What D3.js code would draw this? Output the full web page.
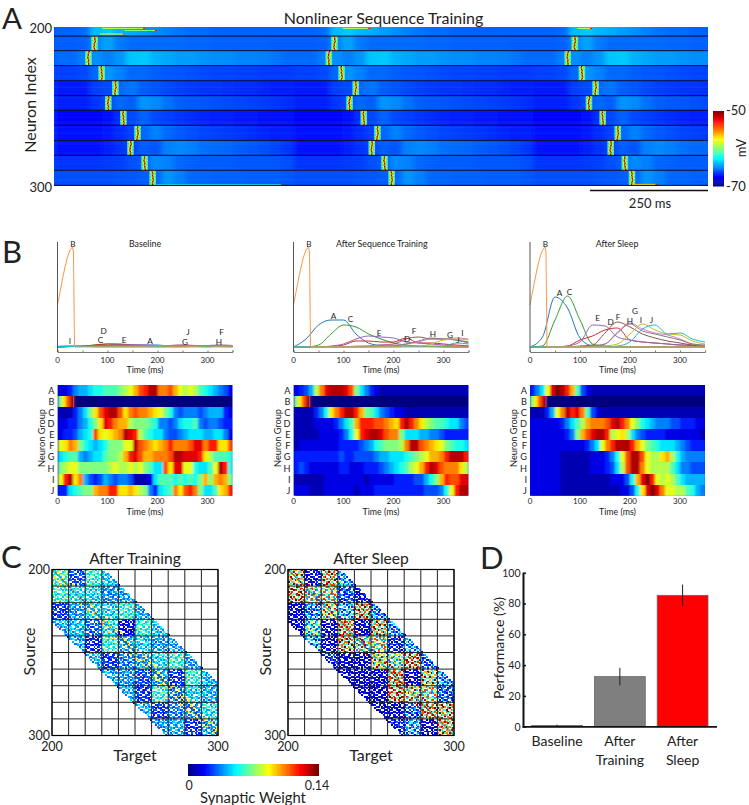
<!DOCTYPE html>
<html>
<head>
<meta charset="utf-8">
<title>Nonlinear Sequence Training</title>
<script src="https://cdn.jsdelivr.net/npm/d3@7"></script>
<style>
  html, body { margin: 0; padding: 0; background: #fff; }
  svg { display: block; }
  text { font-family: Lato, "Noto Sans", sans-serif; fill: #222; }
</style>
</head>
<body>
<svg id="chart" width="749" height="805"></svg>
<script>
// ---- panel A: membrane potential by group, one cycle of 20 columns (mV)
var traceTop = [-65.6,-65.6,-65.4,-63.8,-63.5,-63.9,-64.1,-64.4,-64.7,-65,-65.2,-65.4,-65.4,-65.6,-65.6,-65.6,-65.6,-65.6,-65.6,-65.6];
var trace1 = [-65.7,-65.7,-65.6,-64.9,-64.3,-65.1,-65.4,-65.4,-65.4,-65.4,-65.4,-65.5,-65.5,-65.6,-65.6,-65.6,-65.6,-65.6,-65.7,-65.7];
var trace2 = [-65.4,-65.4,-65,-64.7,-65,-64.6,-63.6,-63.5,-64,-64.2,-64.4,-64.4,-64.6,-64.7,-64.7,-64.9,-64.9,-65,-65.2,-65.4];
var trace3 = [-66.3,-66.3,-66.1,-65.5,-64.6,-65,-65.5,-65.5,-65.7,-65.8,-65.9,-66,-66.1,-66.2,-66.2,-66.3,-66.3,-66.4,-66.4,-66.4];
var trace4 = [-67.1,-67.1,-67.1,-66.3,-66.1,-65.5,-65.2,-65.7,-65.9,-66.1,-66.3,-66.4,-66.5,-66.5,-66.6,-66.7,-66.7,-66.8,-66.9,-66.9];
var trace5 = [-67,-67,-67,-66.5,-66.1,-65.5,-65.7,-64.6,-64.8,-65.3,-65.7,-65.8,-65.9,-66,-66.1,-66.2,-66.3,-66.4,-66.5,-66.7];
var trace6 = [-67.5,-67.5,-67.5,-67.5,-67.3,-66.7,-66.1,-65.6,-66.1,-66.3,-66.5,-66.7,-66.8,-66.9,-67,-67.1,-67.1,-67.2,-67.3,-67.3];
var trace7 = [-67.3,-67.3,-67.3,-67.3,-67.1,-66.7,-66.3,-65.5,-65,-65.5,-65.8,-66,-66.2,-66.3,-66.4,-66.5,-66.7,-66.8,-66.9,-67];
var trace8 = [-67.3,-67.3,-67.3,-67.3,-67,-66.6,-66.3,-65.7,-65.9,-65,-64.8,-65,-65.3,-65.4,-65.5,-65.7,-65.8,-66,-66.2,-66.5];
var trace9 = [-66.5,-66.5,-66.5,-66.5,-66.4,-66.3,-66,-65.7,-64.8,-65,-65.5,-65.6,-65.7,-65.7,-65.7,-65.8,-65.8,-65.8,-65.9,-66];
var trace10 = [-66,-66,-66,-66,-66,-65.9,-65.8,-65.7,-65.5,-64.6,-65,-65.5,-65.5,-65.6,-65.6,-65.6,-65.7,-65.7,-65.7,-65.8];
var groupTraces = [traceTop, trace1, trace2, trace3, trace4, trace5, trace6, trace7, trace8, trace9, trace10];

var cycleStarts = [0, 508, 1015];
var cycleColumnMs = 25.4;
var sweepMs = 1385;
// neuron index at the black separators
var rowEdges = [200, 205.7, 214.9, 224.3, 233.8, 243.2, 252.4, 261.8, 271.3, 280.7, 290.1, 299.6];
// spike time of groups 1..10 in each of the three presentations (ms)
var spikes1 = [85, 72, 100, 129, 114, 146, 176, 161, 191, 208];
var spikes2 = [593, 581, 608, 638, 625, 655, 684, 672, 699, 714];
var spikes3 = [1102, 1087, 1117, 1146, 1132, 1161, 1193, 1178, 1208, 1223];
var spikeJitter = [0, 1, 1, 2, 1, 0, 0, -1, 0, 1];
var stripeLight = [.05, 0, .09, .02, 0, .06, .11, .01, .04, 0];
// stray firing at the sheet edges
var streakStart = [102, 150, 97, 612, 1108, 1225, 210, 1280];
var streakEnd = [193, 218, 150, 670, 1140, 1278, 485, 1375];
var streakNeuron = [200.9, 202.2, 204.4, 200.9, 200.9, 299, 299.2, 299.7];
var streakMv = [-59, -60, -58, -59, -59, -57, -62, -63];

// ---- panel B
var groupNames = ["A", "B", "C", "D", "E", "F", "G", "H", "I", "J"];
var lineTimes = [0, 25, 50, 75, 100, 125, 150, 175, 200, 225, 250, 275, 300, 325, 350];
var stimTimes = [0, 5, 10, 15, 20, 25, 30, 32, 34, 350];
var stimTrace = [.42, .55, .68, .8, .9, .97, 1, .95, 0, 0];
var stimEdges = [0, 8, 16, 24, 32, 350];
var stimCells = [10, 13, 16, 19, 0];

var baseA = [0,.005,.01,.01,.015,.02,.02,.02,.02,.01,.01,.01,.01,.005,.005];
var baseC = [0,.005,.01,.02,.03,.025,.015,.01,.01,.005,.005,.01,.01,.005,0];
var baseD = [0,.005,.005,.02,.03,.03,.02,.015,.01,.01,.005,.01,.005,.005,.005];
var baseE = [0,.005,.005,.01,.015,.02,.02,.02,.015,.01,.01,.01,.005,.005,.005];
var baseF = [.005,.01,.01,.01,.01,.01,.015,.015,.01,.015,.02,.015,.015,.02,.015];
var baseG = [.005,.005,.005,.005,.005,.01,.01,.015,.015,.015,.02,.015,.015,.015,.01];
var baseH = [0,.005,.005,.005,.01,.01,.01,.01,.005,.01,.01,.01,.01,.015,.01];
var baseI = [.005,.015,.01,0,0,0,0,0,0,0,0,.005,0,.01,.005];
var baseJ = [.005,.005,.005,.01,.01,.01,.01,.01,.005,.01,.015,.01,.005,.01,.01];

var trainA = [0,.08,.22,.27,.27,.13,.04,.015,.01,.01,.005,.005,0,0,0];
var trainC = [0,0,.02,.13,.22,.2,.13,.08,.04,.02,.01,.005,.005,0,0];
var trainD = [0,0,0,.005,.02,.06,.06,.05,.05,.09,.04,.04,.03,.02,.01];
var trainE = [0,0,0,.01,.03,.08,.11,.1,.09,.05,.04,.03,.02,.01,.01];
var trainF = [0,0,0,0,.005,.005,.01,.02,.03,.08,.1,.08,.08,.07,.04];
var trainG = [0,0,0,0,0,.01,.01,.02,.02,.03,.05,.08,.08,.09,.08];
var trainH = [0,0,0,0,0,0,.005,.005,.01,.03,.06,.09,.08,.07,.05];
var trainI = [0,0,0,0,0,0,0,.005,.005,.01,.01,.03,.07,.08,.07];
var trainJ = [0,0,0,0,0,0,0,0,0,.005,.005,.01,.01,.04,.03];

var sleepA = [0,.1,.5,.39,.09,.01,0,0,0,0,0,0,0,0,0];
var sleepC = [0,.01,.27,.51,.27,.03,.01,0,0,0,0,0,0,0,0];
var sleepD = [0,0,0,.01,.07,.11,.17,.19,.07,.05,.04,.03,.02,.015,.01];
var sleepE = [0,0,0,.01,.05,.22,.21,.1,.07,.05,.04,.03,.02,.02,.01];
var sleepF = [0,0,0,0,.01,.02,.14,.25,.2,.13,.09,.06,.04,.02,.01];
var sleepG = [0,0,0,0,0,.01,.03,.15,.24,.18,.14,.12,.08,.03,.015];
var sleepH = [0,0,0,0,0,.01,.03,.14,.23,.16,.13,.1,.07,.03,.02];
var sleepI = [0,0,0,0,0,0,.01,.03,.13,.23,.17,.13,.12,.06,.03];
var sleepJ = [0,0,0,0,0,0,0,.01,.05,.18,.22,.13,.14,.08,.05];

var baseLabelTimes = [185, 31, 86, 92, 133, 328, 255, 323, 25, 261];
var baseLabelValues = [.063, 1.03, .07, .165, .073, .152, .055, .055, .06, .155];
var trainLabelTimes = [80, 31, 114, 227, 171, 241, 313, 279, 338, 329];
var trainLabelValues = [.307, 1.03, .277, .08, .143, .165, .123, .133, .145, .07];
var sleepLabelTimes = [59, 31, 79, 161, 135, 176, 210, 200, 222, 243];
var sleepLabelValues = [.537, 1.03, .553, .25, .293, .305, .365, .265, .273, .267];

// activity heatmaps, 10 ms columns, level 0..20 on the jet map
var heatBase = [
  [2,2,3,5,6,6,7,8,8,9,9,9,10,11,12,14,16,17,19,19,15,15,16,14,12,11,12,11,9,8,7,6,5,4,2],
  [1,1,1,3,5,7,10,13,16,18,19,19,16,13,15,16,15,15,14,13,12,10,8,5,4,5,5,5,4,5,6,6,6,3,2],
  [2,2,3,3,5,6,8,10,13,18,17,15,14,14,11,10,10,10,9,8,5,5,4,5,7,8,8,9,5,4,5,5,4,3,3],
  [2,3,3,4,6,7,8,16,13,12,13,14,15,19,18,17,11,9,8,7,7,5,4,4,5,6,7,7,7,6,6,7,7,5,2],
  [12,13,15,14,10,8,7,6,7,8,10,10,10,12,12,19,16,15,14,13,14,15,17,15,15,15,16,18,18,15,17,17,13,13,16],
  [7,8,9,9,6,5,6,7,7,9,10,10,11,14,17,18,16,14,14,15,15,15,16,19,19,18,18,18,17,13,11,9,9,9,8],
  [10,11,12,12,10,10,10,10,10,10,11,12,11,11,12,11,12,10,9,7,7,16,13,18,18,12,12,8,7,7,9,12,19,17,8],
  [12,17,19,13,15,6,4,3,4,6,5,4,5,5,4,1,1,1,2,7,9,9,9,8,9,8,9,8,10,14,10,14,15,14,10],
  [3,3,7,8,9,10,10,14,15,15,17,17,13,13,14,13,11,10,5,3,7,8,9,15,13,16,17,15,10,7,7,9,13,14,17]
];
var heatTrain = [
  [2,3,4,6,11,15,18,19,19,19,18,16,10,7,5,3,2,1,1,1,1,1,1,1,1,1,1,1,1,1,1,1,1,1,1],
  [1,1,1,1,3,5,8,13,15,17,19,19,17,14,10,9,7,5,4,3,2,2,1,1,1,1,1,1,1,1,1,1,1,1,1],
  [1,1,1,1,2,2,2,2,3,5,7,9,14,17,17,17,16,16,15,14,13,17,19,17,15,13,11,10,9,9,8,7,7,5,4],
  [1,1,1,1,1,2,2,2,2,3,5,8,12,17,18,19,19,18,16,15,15,10,7,7,7,6,6,5,5,4,3,3,3,3,3],
  [1,2,2,2,2,2,2,2,2,3,3,3,3,4,5,6,8,9,10,10,10,11,15,19,19,16,15,14,13,12,10,9,8,8,7],
  [3,3,3,3,3,3,3,3,3,4,3,3,4,4,4,4,5,6,6,7,7,7,8,9,10,11,12,14,14,15,17,19,19,19,17],
  [3,4,3,2,2,2,2,2,2,3,3,2,2,2,3,3,3,4,5,6,7,8,9,11,12,14,17,19,18,16,15,15,15,13,11],
  [1,1,1,1,1,1,2,2,2,2,2,2,2,2,1,2,2,2,2,2,3,3,3,3,4,4,6,8,10,14,17,16,16,18,18],
  [2,2,2,1,1,1,2,2,2,2,2,2,1,2,2,2,3,3,3,3,3,3,3,3,3,3,4,4,4,5,8,12,17,19,19]
];
var heatSleep = [
  [3,5,7,12,18,20,19,17,14,9,4,2,1,1,1,1,1,1,1,1,1,1,1,1,1,1,1,1,1,1,1,1,1,1,1],
  [1,1,1,3,6,12,15,19,17,18,15,9,4,2,1,1,1,1,1,1,1,1,1,1,1,1,1,1,1,1,1,1,1,1,1],
  [2,2,2,2,2,2,3,5,7,9,11,14,15,15,15,16,18,19,17,15,12,10,8,7,6,5,5,5,4,4,3,3,3,2,2],
  [2,2,2,2,2,2,2,3,5,10,14,16,18,19,19,17,11,12,13,11,7,5,4,3,3,3,3,2,2,2,2,2,2,2,1],
  [2,2,2,2,2,2,2,2,2,2,2,3,5,7,12,15,17,19,19,19,17,14,12,10,9,8,7,7,7,6,5,4,3,3,3],
  [2,2,2,2,2,2,1,1,1,1,1,1,2,2,2,3,5,8,12,16,19,19,16,12,11,11,13,14,11,8,6,5,5,5,5],
  [2,2,2,2,2,2,1,1,1,1,1,1,2,2,2,3,4,7,11,16,19,19,15,12,11,11,11,11,9,7,5,5,4,4,4],
  [2,2,2,2,2,2,1,1,1,1,1,1,1,1,1,1,2,2,2,4,8,14,18,20,17,12,11,12,11,9,7,6,6,6,6],
  [2,2,2,2,2,2,1,1,1,1,1,1,1,1,1,1,1,1,2,2,4,8,13,18,20,18,15,12,12,11,11,9,8,6,5]
];

// ---- panel C: mean weight of each 10x10 block of the connectivity matrix
var trainW0 = [.063,.028,.059,.046,0,0,0,0,0,0];
var trainW1 = [.059,.053,.05,.038,.042,0,0,0,0,0];
var trainW2 = [.025,.039,.049,.049,.059,.042,0,0,0,0];
var trainW3 = [.042,.046,.031,.053,.017,.059,.046,0,0,0];
var trainW4 = [0,.042,.021,.059,.042,.049,.039,.042,0,0];
var trainW5 = [0,0,.042,.025,.035,.042,.05,.059,.039,0];
var trainW6 = [0,0,0,.042,.039,.028,.042,.025,.059,.045];
var trainW7 = [0,0,0,0,.042,.025,.059,.035,.049,.042];
var trainW8 = [0,0,0,0,0,.042,.025,.035,.039,.053];
var trainW9 = [0,0,0,0,0,0,.039,.042,.025,.042];
var trainDiag = [.09, .06, .092, .09, .09, .088, .088, .09, .09, .09];

var sleepW0 = [.098,.017,.112,.042,0,0,0,0,0,0];
var sleepW1 = [.119,.07,.077,.028,.017,0,0,0,0,0];
var sleepW2 = [.014,.035,.084,.042,.112,.035,0,0,0,0];
var sleepW3 = [.014,.056,.014,.112,.014,.105,.035,0,0,0];
var sleepW4 = [0,.042,.014,.109,.07,.077,.021,.042,0,0];
var sleepW5 = [0,0,.021,.014,.014,.091,.063,.119,.028,0];
var sleepW6 = [0,0,0,.014,.014,.014,.112,.014,.098,.042];
var sleepW7 = [0,0,0,0,.014,.014,.119,.084,.077,.028];
var sleepW8 = [0,0,0,0,0,.014,.014,.028,.112,.109];
var sleepW9 = [0,0,0,0,0,0,.021,.039,.014,.105];
var sleepDiag = [.13, .12, .13, .13, .13, .13, .13, .13, .13, .13];

// synapse patterns: 0 none, 1 weak, 2 mean, 3 strong
var synapsesA = ["3102200132","2013001203","0120312001","1002130230","2300210013","0231003120","1200321002","3012002310","0103120021","2210031302"];
var synapsesB = ["0023102013","1200230301","2031001020","0310223001","1002013120","3120100032","0021302103","2300120210","1032001302","0201320010"];
var synapsesC = ["1300201023","0021320200","2102003103","3010210021","0230031200","1002102013","2310020130","0102301002","2003120310","1320002201"];
var synapsesD = ["2001032100","1230010320","0003201012","3120002300","0201130021","2010023100","1302001032","0021210300","3100302012","0230100231"];
var synapseMasks = [synapsesA, synapsesB, synapsesC, synapsesD];
var bandHalfWidth = 31;

// ---- panel D
var perfLabels = ["Baseline", "After Training", "After Sleep"];
var perfValues = [.8, 32.5, 85.3];
var perfErrors = [.5, 5.7, 7];
var perfColors = ["#7f7f7f", "#7f7f7f", "#ff0000"];

var svg = d3.select("#chart");
var defs = svg.append("defs");

function jetScale(lo, hi) {
  return d3.scaleLinear()
    .domain([0, .125, .375, .625, .875, 1].map(function (f) { return lo + f * (hi - lo); }))
    .range(["#00007f", "#0000ff", "#00ffff", "#ffff00", "#ff0000", "#7f0000"])
    .clamp(true);
}

function addText(str, x, y, size, opts) {
  opts = opts || {};
  var t = svg.append("text")
    .text(str)
    .attr("x", x)
    .attr("y", y)
    .attr("font-size", size)
    .attr("text-anchor", opts.anchor || "middle")
    .attr("dominant-baseline", opts.baseline || "central");
  if (opts.rotate) t.attr("transform", "rotate(-90 " + x + " " + y + ")");
  return t;
}

function addBlur(id, sx, sy) {
  defs.append("filter").attr("id", id)
    .attr("x", "-2%").attr("y", "-2%").attr("width", "104%").attr("height", "104%")
    .append("feGaussianBlur").attr("stdDeviation", sx + " " + sy);
}

addBlur("blurA", 2.6, 0);
addBlur("blurSpike", .4, .25);
addBlur("blurB", 1, .35);

// panel letters
addText("A", 2, 29, 29.5, { anchor: "start", baseline: "auto" });
addText("B", 2, 263, 31, { anchor: "start", baseline: "auto" });
addText("C", 1, 568, 31, { anchor: "start", baseline: "auto" });
addText("D", 480, 569, 31, { anchor: "start", baseline: "auto" });

// ---------- panel A
(function () {
  var x = d3.scaleLinear().domain([0, sweepMs]).range([54, 708]);
  var y = d3.scaleLinear().domain([200, 300]).range([27, 186]);
  var color = jetScale(-70, -50);
  var allSpikes = [spikes1, spikes2, spikes3];

  defs.append("clipPath").attr("id", "clipA").append("rect")
    .attr("x", 54).attr("y", 27).attr("width", 654).attr("height", 159);

  var root = svg.append("g").attr("clip-path", "url(#clipA)");
  root.append("rect").attr("x", 54).attr("y", 27).attr("width", 654).attr("height", 159)
    .attr("fill", color(-66));

  var cells = [];
  groupTraces.forEach(function (trace, g) {
    cycleStarts.forEach(function (start) {
      trace.forEach(function (mv, c) {
        cells.push({
          t0: start + c * cycleColumnMs,
          t1: start + (c + 1) * cycleColumnMs,
          top: rowEdges[g],
          bottom: g < rowEdges.length - 1 ? rowEdges[g + 1] : 300,
          mv: mv
        });
      });
    });
  });

  root.append("g").attr("filter", "url(#blurA)").attr("shape-rendering", "crispEdges")
    .selectAll("rect").data(cells).join("rect")
    .attr("x", function (d) { return x(d.t0); })
    .attr("width", function (d) { return x(d.t1) - x(d.t0) + .5; })
    .attr("y", function (d) { return y(d.top); })
    .attr("height", function (d) { return y(d.bottom) - y(d.top); })
    .attr("fill", function (d) { return color(d.mv); });

  // within-group differences between neurons show as horizontal stripes
  var stripes = [];
  rowEdges.slice(0, -1).forEach(function (top, g) {
    var h = (rowEdges[g + 1] - top) / stripeLight.length;
    stripeLight.forEach(function (a, s) {
      stripes.push({ top: top + s * h, h: h, a: stripeLight[(s + g * 3) % stripeLight.length] });
    });
  });
  root.append("g").selectAll("rect").data(stripes).join("rect")
    .attr("x", 54).attr("width", 654)
    .attr("y", function (d) { return y(d.top); })
    .attr("height", function (d) { return y(d.top + d.h) - y(d.top); })
    .attr("fill", "#2aa0ff")
    .attr("opacity", function (d) { return d.a; });

  // spikes
  var marks = [];
  allSpikes.forEach(function (times) {
    times.forEach(function (t, g) {
      var top = rowEdges[g + 1];
      var h = (rowEdges[g + 2] - top) / spikeJitter.length;
      spikeJitter.forEach(function (j, s) {
        var jit = spikeJitter[(s + g * 3) % spikeJitter.length];
        marks.push({ t0: t - 6, t1: t + 8, top: top + s * h, h: h, mv: -61 });
        marks.push({ t0: t - 3 + jit, t1: t + 4 + jit, top: top + s * h, h: h, mv: -57.5 });
        marks.push({ t0: t - 1 + jit, t1: t + 2 + jit, top: top + s * h, h: h, mv: -50.5 });
      });
    });
  });
  var fine = root.append("g").attr("filter", "url(#blurSpike)");
  fine.append("g").selectAll("rect").data(marks).join("rect")
    .attr("x", function (d) { return x(d.t0); })
    .attr("width", function (d) { return x(d.t1) - x(d.t0); })
    .attr("y", function (d) { return y(d.top); })
    .attr("height", function (d) { return y(d.top + d.h) - y(d.top); })
    .attr("fill", function (d) { return color(d.mv); });

  // stray firing
  fine.append("g").selectAll("rect").data(streakStart).join("rect")
    .attr("x", function (d) { return x(d); })
    .attr("width", function (d, i) { return x(streakEnd[i]) - x(d); })
    .attr("y", function (d, i) { return y(streakNeuron[i]) - .5; })
    .attr("height", 1)
    .attr("fill", function (d, i) { return color(streakMv[i]); });
  fine.append("g").selectAll("rect").data(streakEnd).join("rect")
    .attr("x", function (d) { return x(d) - 2; })
    .attr("width", 2)
    .attr("y", function (d, i) { return y(streakNeuron[i]) - .5; })
    .attr("height", 1)
    .attr("fill", color(-52));

  // separators between groups
  root.append("g").selectAll("line").data(rowEdges.slice(1)).join("line")
    .attr("x1", 54).attr("x2", 708)
    .attr("y1", function (d) { return y(d); })
    .attr("y2", function (d) { return y(d); })
    .attr("stroke", "#0a0a28").attr("stroke-width", 1);

  addText("Nonlinear Sequence Training", 383.5, 17, 16);
  addText("200", 52, 28, 13, { anchor: "end" });
  addText("300", 52, 187, 13, { anchor: "end" });
  addText("Neuron Index", 29, 105, 16, { rotate: true });

  // colour bar
  var mvY = d3.scaleLinear().domain([-70, -50]).range([186, 111]);
  svg.append("g").selectAll("rect").data(d3.range(-70, -50, .25)).join("rect")
    .attr("x", 713).attr("width", 11)
    .attr("y", function (d) { return mvY(d + .25); })
    .attr("height", function (d) { return mvY(d) - mvY(d + .25) + .5; })
    .attr("fill", function (d) { return color(d + .125); });
  addText("-50", 726, 110, 13, { anchor: "start" });
  addText("-70", 726, 186, 13, { anchor: "start" });
  addText("mV", 741, 148, 13, { rotate: true });

  // scale bar, 250 ms
  svg.append("line")
    .attr("x1", x(sweepMs - 250)).attr("x2", x(sweepMs))
    .attr("y1", 190.5).attr("y2", 190.5)
    .attr("stroke", "#111").attr("stroke-width", 1.6);
  addText("250 ms", 650, 202.5, 13);
})();

// ---------- panel B
function drawLines(left, title, titleX, series, labelTimes, labelValues) {
  var x = d3.scaleLinear().domain([0, 350]).range([left, left + 175]);
  var y = d3.scaleLinear().domain([0, 1]).range([347, 247]);
  var palette = d3.schemeCategory10;
  var order = [0, 2, 3, 4, 5, 6, 7, 8, 9];

  var line = d3.line().curve(d3.curveMonotoneX)
    .x(function (d) { return x(d[0]); })
    .y(function (d) { return y(d[1]); });

  var g = svg.append("g").attr("fill", "none").attr("stroke-width", 1);
  series.forEach(function (values, i) {
    g.append("path")
      .attr("d", line(lineTimes.map(function (t, k) { return [t, values[k]]; })))
      .attr("stroke", palette[order[i]]);
  });
  g.append("path")
    .attr("d", d3.line().x(function (d) { return x(d[0]); }).y(function (d) { return y(d[1]); })(
      stimTimes.map(function (t, k) { return [t, stimTrace[k]]; })))
    .attr("stroke", "#f9974a");

  var axis = svg.append("g").attr("transform", "translate(0,352)")
    .call(d3.axisBottom(x).tickValues(d3.range(0, 351, 50)).tickSize(-1.5).tickPadding(2).tickFormat(""));
  axis.select(".domain").attr("stroke", "#777");
  axis.selectAll("line").attr("stroke", "#777");

  svg.append("line").attr("x1", left).attr("x2", left)
    .attr("y1", 242).attr("y2", 352)
    .attr("stroke", "#555").attr("stroke-width", 1);

  [0, 100, 200, 300].forEach(function (t) {
    addText(t, x(t), 359.5, 8);
  });
  addText("Time (ms)", left + 87.5, 369.5, 8.8);
  addText(title, titleX, 243.5, 8.8);

  svg.append("g").selectAll("text").data(groupNames).join("text")
    .attr("x", function (d, i) { return x(labelTimes[i]); })
    .attr("y", function (d, i) { return y(labelValues[i]); })
    .attr("font-size", 8.2)
    .attr("text-anchor", "middle")
    .attr("dominant-baseline", "central")
    .text(function (d) { return d; });
}

function drawHeat(left, rows) {
  var x = d3.scaleLinear().domain([0, 350]).range([left, left + 175]);
  var y = d3.scaleBand().domain(groupNames).range([385, 495.7]);
  var color = jetScale(0, 20);
  var clipId = "clipHeat" + Math.round(left);
  var rowNames = groupNames.filter(function (n) { return n !== "B"; });

  var cells = [];
  rows.forEach(function (row, r) {
    row.forEach(function (v, c) {
      cells.push({ row: rowNames[r], t0: c * 10, t1: (c + 1) * 10, v: v });
    });
  });
  stimCells.forEach(function (v, c) {
    cells.push({ row: "B", t0: stimEdges[c], t1: stimEdges[c + 1], v: v });
  });

  defs.append("clipPath").attr("id", clipId).append("rect")
    .attr("x", left).attr("y", 385).attr("width", 175).attr("height", 110.7);

  var root = svg.append("g").attr("clip-path", "url(#" + clipId + ")");
  root.append("rect").attr("x", left).attr("y", 385).attr("width", 175).attr("height", 110.7)
    .attr("fill", "#0000c0");
  root.append("g").attr("filter", "url(#blurB)").attr("shape-rendering", "crispEdges")
    .selectAll("rect").data(cells).join("rect")
    .attr("x", function (d) { return x(d.t0); })
    .attr("width", function (d) { return x(d.t1) - x(d.t0) + .5; })
    .attr("y", function (d) { return y(d.row); })
    .attr("height", y.bandwidth())
    .attr("fill", function (d) { return color(d.v); });
  root.append("line")
    .attr("x1", x(32)).attr("x2", x(32))
    .attr("y1", y("B")).attr("y2", y("B") + y.bandwidth())
    .attr("stroke", "#8a7a70").attr("stroke-width", .8);

  svg.append("g").selectAll("text").data(groupNames).join("text")
    .attr("x", left - 3)
    .attr("y", function (d) { return y(d) + y.bandwidth() / 2; })
    .attr("font-size", 9.2)
    .attr("text-anchor", "end")
    .attr("dominant-baseline", "central")
    .text(function (d) { return d; });

  [0, 100, 200, 300].forEach(function (t) {
    addText(t, x(t), 501.3, 8);
  });
  addText("Time (ms)", left + 87.5, 511.3, 8.8);
  addText("Neuron Group", left - 16.5, 438, 9.2, { rotate: true });
}

drawLines(57.5, "Baseline", 145, [baseA, baseC, baseD, baseE, baseF, baseG, baseH, baseI, baseJ], baseLabelTimes, baseLabelValues);
drawLines(293.5, "After Sequence Training", 381.7, [trainA, trainC, trainD, trainE, trainF, trainG, trainH, trainI, trainJ], trainLabelTimes, trainLabelValues);
drawLines(530, "After Sleep", 617, [sleepA, sleepC, sleepD, sleepE, sleepF, sleepG, sleepH, sleepI, sleepJ], sleepLabelTimes, sleepLabelValues);
drawHeat(57.5, heatBase);
drawHeat(293.5, heatTrain);
drawHeat(530, heatSleep);

// ---------- panel C
var weightColor = jetScale(0, .14);

function drawMatrix(left, top, size, title, blocks, diag, tones) {
  var x = d3.scaleLinear().domain([200, 300]).range([left, left + size]);
  var y = d3.scaleLinear().domain([200, 300]).range([top, top + size]);
  var cells = [];
  d3.range(100).forEach(function (i) {
    d3.range(100).forEach(function (j) {
      if (Math.abs(i - j) > bandHalfWidth) return;
      var r = Math.floor(i / 10), c = Math.floor(j / 10);
      var mask = synapseMasks[(r * 3 + c * 7) % synapseMasks.length];
      var tone = +mask[i % 10][j % 10];
      if (tone === 0) return;
      var w = blocks[r][c] * tones[tone - 1];
      if (Math.abs(i - j) <= 4 && tone === 3) w = diag[r];
      cells.push({ i: i, j: j, w: w });
    });
  });

  svg.append("g").attr("shape-rendering", "crispEdges")
    .selectAll("rect").data(cells).join("rect")
    .attr("x", function (d) { return x(200 + d.j); })
    .attr("y", function (d) { return y(200 + d.i); })
    .attr("width", x(201) - x(200) + .3)
    .attr("height", y(201) - y(200) + .3)
    .attr("fill", function (d) { return weightColor(d.w); });

  var ticks = d3.range(200, 301, 10);
  var grid = svg.append("g").attr("stroke", "#222").attr("stroke-width", 1);
  grid.selectAll(".v").data(ticks).join("line").attr("class", "v")
    .attr("x1", x).attr("x2", x).attr("y1", top).attr("y2", top + size);
  grid.selectAll(".h").data(ticks).join("line").attr("class", "h")
    .attr("y1", y).attr("y2", y).attr("x1", left).attr("x2", left + size);
  grid.append("line")
    .attr("x1", x(200)).attr("y1", y(200)).attr("x2", x(300)).attr("y2", y(300))
    .attr("stroke", "#111").attr("stroke-width", .7);
  svg.append("rect").attr("x", left).attr("y", top).attr("width", size).attr("height", size)
    .attr("fill", "none").attr("stroke", "#000").attr("stroke-width", 1.2);

  addText(title, left + size / 2, top - 12, 15.6);
  addText("200", left - 2, top, 12.5, { anchor: "end" });
  addText("300", left - 2, top + size, 12.5, { anchor: "end" });
  addText("200", left, top + size + 11, 12.5);
  addText("300", left + size, top + size + 11, 12.5);
  addText("Target", left + size / 2, top + size + 18.5, 16);
  addText("Source", left - 24, top + size / 2 - 1, 16, { rotate: true });
}

drawMatrix(52, 569.5, 166, "After Training",
  [trainW0, trainW1, trainW2, trainW3, trainW4, trainW5, trainW6, trainW7, trainW8, trainW9], trainDiag, [.75, 1, 1.2]);
drawMatrix(288, 569.5, 166, "After Sleep",
  [sleepW0, sleepW1, sleepW2, sleepW3, sleepW4, sleepW5, sleepW6, sleepW7, sleepW8, sleepW9], sleepDiag, [.55, 1, 1.5]);

(function () {
  var x = d3.scaleLinear().domain([0, .14]).range([188, 317]);
  svg.append("g").attr("shape-rendering", "crispEdges")
    .selectAll("rect").data(d3.range(0, .14, .0014)).join("rect")
    .attr("x", x)
    .attr("width", x(.0014) - x(0) + .5)
    .attr("y", 764).attr("height", 11.7)
    .attr("fill", function (d) { return weightColor(d + .0007); });
  addText("0", 189, 785, 12.5);
  addText("0.14", 317, 785, 12.5);
  addText("Synaptic Weight", 253, 797, 14.8);
})();

// ---------- panel D
(function () {
  var x = d3.scaleBand().domain(perfLabels).range([531.7, 708]).paddingInner(.19);
  var y = d3.scaleLinear().domain([0, 100]).range([726.7, 572.7]);

  svg.append("g").selectAll("rect").data(perfLabels).join("rect")
    .attr("x", function (d) { return x(d); })
    .attr("y", function (d, i) { return y(perfValues[i]); })
    .attr("width", x.bandwidth())
    .attr("height", function (d, i) { return y(0) - y(perfValues[i]); })
    .attr("fill", function (d, i) { return perfColors[i]; })
    .attr("stroke", "#666").attr("stroke-width", .8);

  svg.append("g").selectAll("line").data(perfLabels).join("line")
    .attr("x1", function (d) { return x(d) + x.bandwidth() / 2; })
    .attr("x2", function (d) { return x(d) + x.bandwidth() / 2; })
    .attr("y1", function (d, i) { return y(perfValues[i] - perfErrors[i]); })
    .attr("y2", function (d, i) { return y(perfValues[i] + perfErrors[i]); })
    .attr("stroke", "#222").attr("stroke-width", 1);

  var axis = svg.append("g").attr("transform", "translate(523.5,0)")
    .call(d3.axisLeft(y).tickValues(d3.range(0, 101, 20)).tickSize(-2.5).tickPadding(3));
  axis.select(".domain").remove();
  axis.selectAll("line").attr("stroke", "#111").attr("stroke-width", 1.5);
  axis.selectAll("text").attr("font-size", 10.5).attr("font-family", null);

  svg.append("line").attr("x1", 523.5).attr("x2", 523.5).attr("y1", 572.7).attr("y2", 727.5)
    .attr("stroke", "#111").attr("stroke-width", 2);
  svg.append("line").attr("x1", 522.5).attr("x2", 717).attr("y1", 726.9).attr("y2", 726.9)
    .attr("stroke", "#111").attr("stroke-width", 1.8);

  addText("Performance (%)", 498, 648, 14.2, { rotate: true });
  addText("Baseline", x("Baseline") + x.bandwidth() / 2, 740, 14);
  addText("After", x("After Training") + x.bandwidth() / 2, 740, 14);
  addText("Training", x("After Training") + x.bandwidth() / 2, 759, 14);
  addText("After", x("After Sleep") + x.bandwidth() / 2, 740, 14);
  addText("Sleep", x("After Sleep") + x.bandwidth() / 2, 759, 14);
})();
</script>
</body>
</html>
